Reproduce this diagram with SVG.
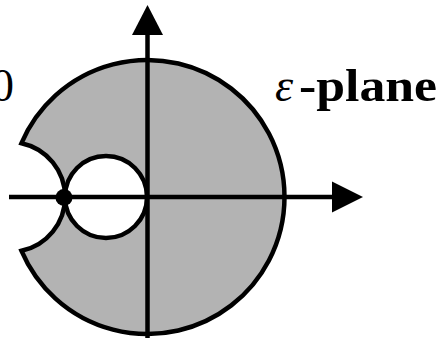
<svg xmlns="http://www.w3.org/2000/svg" width="437" height="338" viewBox="0 0 437 338">
<style>
.ln{fill:none;stroke:#000;stroke-width:4.5}
.region{fill:#b3b3b3;stroke:#000;stroke-width:4.5;stroke-linejoin:miter}
.hole{fill:#fff;stroke:#000;stroke-width:4.5}
.lbl{font-family:"Liberation Serif",serif;font-size:46px;fill:#000}
</style>
<rect width="437" height="338" fill="#fff"/>
<g id="region">
<path class="region" d="M21.5,143.2 A137,137 0 1 1 21.5,250.8 A55,55 0 0 0 21.5,143.2 Z"/>
</g>
<g id="hole">
<circle class="hole" cx="106" cy="197" r="41"/>
</g>
<g id="connectors">
<line class="ln" x1="9" y1="197" x2="334" y2="197"/>
<polygon points="363,197 332,181.5 332,212.5" fill="#000"/>
<line class="ln" x1="147.5" y1="338" x2="147.5" y2="33"/>
<polygon points="147.5,5 132,35 163,35" fill="#000"/>
</g>
<g id="point">
<circle cx="64" cy="197.5" r="8.5" fill="#000"/>
</g>
<g id="labels">
<text class="lbl" x="14" y="101" text-anchor="end">0</text>
<text class="lbl" x="275" y="101"><tspan font-style="italic">ε</tspan><tspan x="299" font-weight="bold" textLength="138" lengthAdjust="spacingAndGlyphs">-plane</tspan></text>
</g>
</svg>
